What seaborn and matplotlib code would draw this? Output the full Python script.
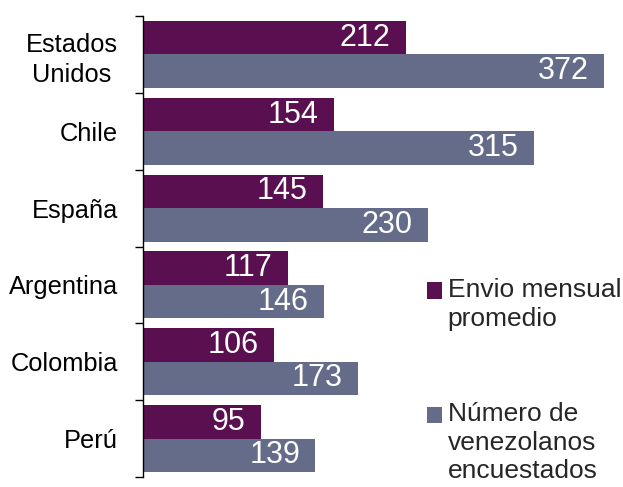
import numpy as np
import pandas as pd
import matplotlib
matplotlib.use("Agg")
import matplotlib.pyplot as plt
import seaborn as sns

# data
paises = ["Estados\nUnidos ", "Chile", "España", "Argentina", "Colombia", "Perú"]
envio_mensual = [212, 154, 145, 117, 106, 95]
num_encuestados = [372, 315, 230, 146, 173, 139]
series = ["Envio mensual\npromedio", "Número de\nvenezolanos\nencuestados"]
colores = ["#5A0F50", "#646C8A"]

df = pd.DataFrame({
    "pais": paises * 2,
    "valor": envio_mensual + num_encuestados,
    "serie": [series[0]] * len(paises) + [series[1]] * len(paises),
})

sns.set_style("white")
plt.rcParams["font.family"] = ["Liberation Sans", "DejaVu Sans"]

fig = plt.figure(figsize=(6.23, 4.87), dpi=100)
ax = fig.add_axes([143 / 623, 10 / 487, 480 / 623, 461 / 487])

sns.barplot(data=df, y="pais", x="valor", hue="serie", orient="h",
            palette=colores, width=0.872, gap=0, saturation=1,
            linewidth=0, ax=ax)

# value labels inside the bar ends
for cont in ax.containers:
    for bar in cont:
        w = bar.get_width()
        ax.annotate(f"{w:.0f}", (w, bar.get_y() + bar.get_height() / 2),
                    xytext=(-11, 0), textcoords="offset points",
                    ha="right", va="center", color="white", fontsize=22)

ax.set_xlim(0, 480 / 1.24)
ax.set_ylim(len(paises) - 0.5, -0.5)
ax.set_xlabel("")
ax.set_ylabel("")
ax.set_xticks([])
for s in ["top", "right", "bottom"]:
    ax.spines[s].set_visible(False)
ax.spines["left"].set_color("black")
ax.spines["left"].set_linewidth(1)

ax.tick_params(axis="y", which="major", length=0, pad=18, labelsize=18.3, labelcolor="black")
ax.set_yticks(np.arange(-0.5, len(paises), 1), minor=True)
ax.tick_params(axis="y", which="minor", length=6, width=1, color="black", direction="out", left=True)
for lab in ax.get_yticklabels():
    lab.set_multialignment("right")
    lab.set_linespacing(1.3)

fs = 19
leg = ax.legend(loc="upper left", bbox_to_anchor=(427 / 623, 1 - 278 / 487),
                bbox_transform=fig.transFigure, frameon=False,
                fontsize=fs, handlelength=0.58, handleheight=0.58,
                handletextpad=0.2, labelspacing=2.7, borderpad=0, borderaxespad=0)
for t in leg.get_texts():
    t.set_linespacing(1.25)
# put each square next to the first line of its label
for h, t in zip(leg.legend_handles, leg.get_texts()):
    n = t.get_text().count("\n") + 1
    h.set_y(h.get_y() + (n - 1) / 2 * 1.06 * fs)

fig.savefig("out.png", dpi=100)
